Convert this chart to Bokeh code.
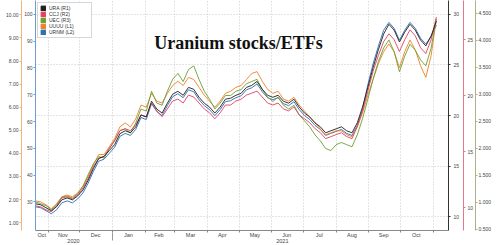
import pandas as pd
from bokeh.plotting import figure
from bokeh.models import (Range1d, LinearAxis, DatetimeAxis, FixedTicker, DatetimeTickFormatter,
                          NumeralTickFormatter, Legend, LegendItem, Label, Grid, ColumnDataSource)
from bokeh.embed import file_html
from bokeh.resources import INLINE

dates = pd.date_range("2020-10-20", periods=77, freq="5D")

ura = [11.27, 11.17, 10.88, 10.59, 10.98, 11.66, 11.85, 11.66, 12.05, 12.63,
       13.61, 14.78, 15.76, 15.95, 16.54, 17.12, 18.20, 18.49, 18.29, 18.88,
       20.05, 19.85, 21.41, 20.63, 20.24, 21.22, 22.10, 22.39, 22.00, 22.78,
       22.59, 21.80, 21.22, 20.83, 20.24, 20.83, 21.61, 21.71, 22.00, 22.20,
       22.78, 22.98, 23.37, 22.59, 22.00, 21.80, 22.00, 21.41, 21.22, 21.61,
       20.83, 20.24, 19.85, 19.27, 18.88, 18.29, 18.49, 18.68, 18.88, 18.49,
       18.29, 19.27, 20.83, 22.78, 24.73, 26.49, 28.05, 29.02, 28.44, 27.27,
       28.24, 29.02, 28.44, 27.46, 26.88, 27.85, 29.33]
ccj = [10.17, 10.08, 9.82, 9.64, 10.17, 10.88, 10.97, 10.79, 11.14, 11.76,
       12.64, 13.70, 14.41, 14.59, 15.29, 16.00, 16.88, 17.06, 16.88, 17.41,
       18.29, 18.12, 19.35, 18.65, 18.12, 18.82, 19.53, 19.70, 19.35, 20.06,
       19.88, 19.35, 18.82, 18.47, 17.94, 18.47, 19.17, 19.17, 19.53, 19.70,
       20.06, 20.23, 20.41, 19.88, 19.35, 19.17, 19.35, 18.82, 18.65, 19.00,
       18.29, 17.94, 17.59, 17.06, 16.70, 16.17, 16.35, 16.53, 16.70, 16.35,
       16.17, 17.23, 18.65, 20.41, 22.18, 23.59, 24.82, 25.53, 25.00, 23.94,
       25.00, 25.88, 25.35, 24.29, 23.76, 25.00, 27.03]
uec = [1.01, 0.975, 0.94, 0.865, 0.957, 1.10, 1.12, 1.08, 1.16, 1.30,
       1.52, 1.72, 1.85, 1.82, 2.00, 2.14, 2.33, 2.36, 2.29, 2.47,
       2.73, 2.69, 3.06, 2.84, 2.80, 3.06, 3.28, 3.39, 3.24, 3.46,
       3.53, 3.28, 3.06, 2.91, 2.73, 2.84, 2.98, 2.98, 3.06, 3.09,
       3.20, 3.24, 3.28, 3.09, 2.95, 2.87, 2.95, 2.80, 2.73, 2.80,
       2.62, 2.51, 2.40, 2.25, 2.14, 2.00, 1.96, 2.07, 2.11, 2.07,
       2.03, 2.25, 2.55, 2.91, 3.28, 3.61, 3.86, 4.01, 3.79, 3.42,
       3.71, 3.93, 3.82, 3.64, 3.53, 3.86, 4.40]
uuuu = [1.94, 1.90, 1.77, 1.60, 1.82, 2.12, 2.20, 2.12, 2.29, 2.59,
        3.01, 3.53, 3.95, 3.95, 4.29, 4.64, 5.15, 5.32, 5.15, 5.49,
        6.09, 6.00, 6.60, 6.26, 6.18, 6.60, 6.94, 7.12, 6.94, 7.29,
        7.20, 6.86, 6.52, 6.26, 6.00, 6.26, 6.60, 6.69, 6.86, 6.94,
        7.20, 7.46, 7.54, 7.12, 6.77, 6.60, 6.69, 6.35, 6.26, 6.43,
        6.09, 5.83, 5.58, 5.32, 5.06, 4.81, 4.89, 4.98, 4.98, 4.81,
        4.72, 5.15, 5.75, 6.52, 7.20, 7.88, 8.40, 8.74, 8.40, 7.71,
        8.40, 8.91, 8.48, 7.80, 7.29, 8.23, 9.805]
urnm = [28.15, 27.78, 26.67, 25.56, 27.04, 29.63, 30.37, 29.63, 31.11, 33.33,
        37.04, 41.48, 45.19, 45.93, 48.15, 50.37, 54.44, 55.56, 54.81, 57.04,
        61.48, 60.74, 66.67, 63.70, 62.22, 65.93, 69.26, 70.37, 68.89, 71.85,
        71.11, 68.15, 65.93, 64.44, 62.22, 64.44, 67.41, 67.78, 68.89, 69.63,
        71.85, 72.59, 74.07, 71.11, 68.89, 68.15, 68.89, 66.67, 65.93, 67.41,
        64.44, 62.22, 60.74, 58.52, 57.04, 54.81, 55.56, 56.30, 57.04, 55.56,
        54.81, 58.52, 64.44, 73.70, 81.48, 88.15, 94.07, 97.04, 94.81, 90.37,
        94.07, 97.04, 94.81, 91.11, 88.89, 91.85, 95.99]

names = ["URA (R1)", "CCJ (R2)", "UEC (R3)", "UUUU (L1)", "URNM (L2)"]
last_labels = ["29.33", "27.03", "4.400", "9.805", "95.99"]
colors = ["#1e1e1e", "#e0435e", "#6a9f34", "#f08224", "#2f6db3"]

month_label_dates = ["2020-10-26", "2020-11-15", "2020-12-16", "2021-01-16", "2021-02-14",
                     "2021-03-16", "2021-04-15", "2021-05-16", "2021-06-15", "2021-07-16",
                     "2021-08-16", "2021-09-15", "2021-10-16"]
month_start_dates = ["2020-11-01", "2020-12-01", "2021-01-01", "2021-02-01", "2021-03-01",
                     "2021-04-01", "2021-05-01", "2021-06-01", "2021-07-01", "2021-08-01",
                     "2021-09-01", "2021-10-01", "2021-11-01"]
year_label_dates = ["2020-11-25", "2021-06-11"]
year_sep_dates = ["2021-01-01"]

l1_ticks = [1, 2, 3, 4, 5, 6, 7, 8, 9, 10]
l2_ticks = [30, 40, 50, 60, 70, 80, 90, 100]
r1_ticks = [10, 15, 20, 25, 30]
r2_ticks = [10, 15, 20, 25]
r3_ticks = [0.5, 1.0, 1.5, 2.0, 2.5, 3.0, 3.5, 4.0, 4.5]

RANGES = {"default": (19.3, 105.2), "l1": (0.66, 10.62), "r1": (8.63, 31.37),
          "r2": (7.97, 28.5), "r3": (0.48, 4.74)}

W, H = 500, 245
BL, BR, BT, BB = 35, 52, 0, 13


def ms(d):
    return pd.Timestamp(d).value / 1e6


x0 = pd.Timestamp("2020-10-20")
x1 = pd.Timestamp("2021-11-15 12:00")

src = ColumnDataSource(dict(date=dates, ura=ura, ccj=ccj, uec=uec, uuuu=uuuu, urnm=urnm))

p = figure(width=W, height=H, x_range=Range1d(x0, x1), y_range=Range1d(*RANGES["default"]),
           x_axis_type=None, y_axis_type=None, output_backend="svg", toolbar_location=None,
           min_border_left=BL, min_border_right=BR, min_border_top=BT, min_border_bottom=BB)
p.extra_y_ranges = {k: Range1d(*v) for k, v in RANGES.items() if k != "default"}
p.outline_line_color = None
p.background_fill_color = "white"
p.border_fill_color = "white"

FONT = "Liberation Sans"


def style_axis(ax, color, pad_standoff=None, standoff=1, size="5px"):
    ax.axis_line_color = color
    ax.axis_line_width = 1
    ax.major_tick_line_color = color
    ax.major_tick_out = 2
    ax.major_tick_in = 0
    ax.minor_tick_out = 0
    ax.minor_tick_in = 0
    ax.major_label_text_font = FONT
    ax.major_label_text_font_size = size
    ax.major_label_text_color = "#444444"
    ax.major_label_standoff = standoff
    if pad_standoff is not None:
        ax.axis_label = " "
        ax.axis_label_text_font_size = "3px"
        ax.axis_label_standoff = pad_standoff


l2 = LinearAxis(ticker=FixedTicker(ticks=l2_ticks))
style_axis(l2, "#6f9ccc")
p.add_layout(l2, "left")
l1 = LinearAxis(y_range_name="l1", ticker=FixedTicker(ticks=l1_ticks),
                formatter=NumeralTickFormatter(format="0.00"))
style_axis(l1, "#f6b27a")
p.add_layout(l1, "left")

r1 = LinearAxis(y_range_name="r1", ticker=FixedTicker(ticks=r1_ticks))
style_axis(r1, "#333333", -5, standoff=3)
p.add_layout(r1, "right")
r2 = LinearAxis(y_range_name="r2", ticker=FixedTicker(ticks=r2_ticks))
style_axis(r2, "#e07a8a", -7, standoff=2)
p.add_layout(r2, "right")
r3 = LinearAxis(y_range_name="r3", ticker=FixedTicker(ticks=r3_ticks),
                formatter=NumeralTickFormatter(format="0.000"))
style_axis(r3, "#a8b48a", standoff=1)
p.add_layout(r3, "right")

fmt_month = DatetimeTickFormatter(days="%b", months="%b", years="%b", hours="%b")
xa = DatetimeAxis(ticker=FixedTicker(ticks=[ms(d) for d in month_label_dates],
                                     minor_ticks=[ms(d) for d in month_start_dates]),
                  formatter=fmt_month)
xa.axis_line_color = "#888888"
xa.major_tick_out = 0
xa.major_tick_in = 0
xa.minor_tick_out = 2
xa.minor_tick_in = 0
xa.minor_tick_line_color = "#888888"
xa.major_label_text_font = FONT
xa.major_label_text_font_size = "5.5px"
xa.major_label_text_color = "#444444"
xa.major_label_standoff = -1
p.add_layout(xa, "below")

fmt_year = DatetimeTickFormatter(days="%Y", months="%Y", years="%Y", hours="%Y")
ya = DatetimeAxis(ticker=FixedTicker(ticks=[ms(d) for d in year_label_dates],
                                     minor_ticks=[ms(d) for d in year_sep_dates]),
                  formatter=fmt_year)
ya.axis_line_color = None
ya.major_tick_out = 0
ya.major_tick_in = 0
ya.minor_tick_out = 0
ya.minor_tick_in = 8
ya.minor_tick_line_color = "#999999"
ya.major_label_text_font = FONT
ya.major_label_text_font_size = "5.5px"
ya.major_label_text_color = "#444444"
ya.major_label_standoff = -2
p.add_layout(ya, "below")

p.add_layout(Grid(dimension=0, ticker=FixedTicker(ticks=[ms(d) for d in month_start_dates]),
                  grid_line_color="#c8c8c8", grid_line_dash="1 2"))
p.add_layout(Grid(dimension=1, ticker=FixedTicker(ticks=r1_ticks), y_range_name="r1",
                  grid_line_color="#c8c8c8", grid_line_dash="1 2"))

series = [("ura", "r1"), ("ccj", "r2"), ("uec", "r3"), ("uuuu", "l1"), ("urnm", "default")]
bars = {}
for (col, rng), c in zip(series, colors):
    bars[col] = p.vbar(x="date", top=col, width=1, source=src, color=c,
                       y_range_name=rng, visible=False)
for (col, rng), c in reversed(list(zip(series, colors))):
    p.line("date", col, source=src, color=c, line_width=1, y_range_name=rng, line_alpha=0.9)
items = [LegendItem(label=nm, renderers=[bars[col]]) for (col, rng), nm in zip(series, names)]

legend = Legend(items=items, location="top_left", margin=2, padding=2, spacing=0,
                label_text_font=FONT, label_text_font_size="5px", label_text_color="#333333",
                label_height=5, glyph_height=6, glyph_width=6, label_standoff=3, label_width=40,
                background_fill_color="white", background_fill_alpha=1,
                border_line_color="#b0b0b0", border_line_width=0.8)
p.add_layout(legend)

ytop = RANGES["default"][1]
for k, t in enumerate(last_labels):
    p.add_layout(Label(x=ms(x0), y=ytop, x_offset=51, y_offset=-(7 + 6.4 * k), text=t,
                       text_align="right", text_baseline="middle", text_font=FONT,
                       text_font_size="5px", text_color="#333333"))

p.add_layout(Label(x=ms(x0), y=ytop, x_offset=203, y_offset=-42, text="Uranium stocks/ETFs",
                   text_align="center", text_baseline="alphabetic", text_font="Liberation Serif",
                   text_font_style="bold", text_font_size="18px", text_color="#111111"))

open("out.html", "w").write(file_html(p, INLINE))
